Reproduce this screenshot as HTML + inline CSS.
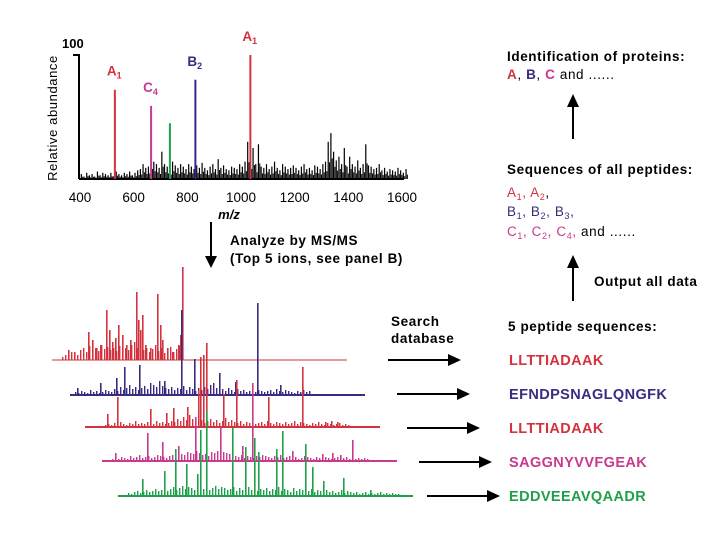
<!DOCTYPE html>
<html><head><meta charset="utf-8"><style>
body{margin:0;background:#fff}
svg{display:block;font-family:"Liberation Sans",sans-serif}
.b{font-weight:bold}
.w{letter-spacing:0.6px}
</style></head><body>
<svg id="s" width="720" height="540" viewBox="0 0 720 540">
<g id="topchart">
<line x1="79" y1="55" x2="79" y2="179" stroke="#000" stroke-width="2"/>
<line x1="73" y1="55" x2="80" y2="55" stroke="#000" stroke-width="2"/>
<text x="62" y="48" font-size="13" class="b">100</text>
<text transform="translate(57,118) rotate(-90)" text-anchor="middle" font-size="13" class="w">Relative abundance</text>
<text x="229" y="219" font-size="13" font-style="italic" class="b" text-anchor="middle">m/z</text>
</g>
<g id="spectra"></g>
<g>
<line x1="211" y1="222" x2="211" y2="258" stroke="#000" stroke-width="2"/>
<polygon points="205,256 217,256 211,268" fill="#000"/>
<text x="230" y="245" font-size="13.5" class="b w">Analyze by MS/MS</text>
<text x="230" y="263" font-size="13.5" class="b w">(Top 5 ions, see panel B)</text>
</g>
<g font-size="13.5" class="w">
<text x="507" y="61" class="b">Identification of proteins:</text>
<text x="507" y="79"><tspan fill="#d2333f" class="b">A</tspan>, <tspan fill="#3b2b80" class="b">B</tspan>, <tspan fill="#c8398f" class="b">C</tspan> and ......</text>
<line x1="573" y1="139" x2="573" y2="104" stroke="#000" stroke-width="2"/>
<polygon points="567,107 579,107 573,94" fill="#000"/>
<text x="507" y="174" class="b">Sequences of all peptides:</text>
<text x="507" y="197" fill="#d2333f">A<tspan font-size="9" dy="3">1</tspan><tspan dy="-3">, A</tspan><tspan font-size="9" dy="3">2</tspan><tspan dy="-3" fill="#000">,</tspan></text>
<text x="507" y="216" fill="#3b2b80">B<tspan font-size="9" dy="3">1</tspan><tspan dy="-3">, B</tspan><tspan font-size="9" dy="3">2</tspan><tspan dy="-3">, B</tspan><tspan font-size="9" dy="3">3</tspan><tspan dy="-3">,</tspan></text>
<text x="507" y="236" fill="#c8398f">C<tspan font-size="9" dy="3">1</tspan><tspan dy="-3">, C</tspan><tspan font-size="9" dy="3">2</tspan><tspan dy="-3">, C</tspan><tspan font-size="9" dy="3">4</tspan><tspan dy="-3">,</tspan><tspan fill="#000">  and ......</tspan></text>
<line x1="573" y1="301" x2="573" y2="265" stroke="#000" stroke-width="2"/>
<polygon points="567,268 579,268 573,255" fill="#000"/>
<text x="594" y="286" class="b">Output all data</text>
<text x="391" y="326" class="b">Search</text>
<text x="391" y="343" class="b">database</text>
<text x="508" y="331" class="b">5 peptide sequences:</text>
</g>
</svg>
<script>
const NS="http://www.w3.org/2000/svg";
// top spectrum data
const xTicks=[400,600,800,1000,1200,1400,1600];
const namedMz=[530,665,735,830,1035];
const namedInt=[72,59,45,80,100];
const namedLabels=["A","C","","B","A"];
const namedSubs=["1","4","","2","1"];
const namedColors=["#d2333f","#c8398f","#1fa04a","#3b2b80","#d2333f"];
const noiseStart=405, noiseStep=10;
const noiseInt=[4,2,5,3,4,2,6,3,5,4,3,5,2,6,4,3,5,4,6,3,5,7,
8,12,9,10,18,14,12,9,22,12,10,8,14,11,9,12,10,8,
12,10,8,11,9,13,9,7,10,12,8,16,9,11,8,7,10,9,8,12,
10,14,30,18,25,12,28,10,9,12,8,10,14,9,7,12,10,8,9,11,
9,7,10,12,8,9,7,11,10,8,12,14,30,37,22,15,18,12,25,10,
18,12,10,15,9,12,28,11,10,8,9,12,7,9,6,8,7,6,9,7,5,8];
// msms spectra data (relative position units, intensity px)
const specColors=["#d2333f","#3b2b80","#d2333f","#c8398f","#1fa04a"];
const peptides=["LLTTIADAAK","EFNDPSNAGLQNGFK","LLTTIADAAK","SAGGNYVVFGEAK","EDDVEEAVQAADR"];
const s1Mz=[16,22,36,40,44,48,54,57,60,63,66,70,74,78,84,86,88,90,93,98,105,108,110,115,120,126,128,130];
const s1Int=[10,8,28,20,12,15,50,30,18,22,35,25,15,20,68,40,30,45,15,12,66,35,20,12,8,15,25,93];
const s2Mz=[7,30,46,54,69,94,111,124,149,165,187,210,232];
const s2Int=[7,12,17,28,30,14,85,36,22,13,92,10,8];
const s3Mz=[22,32,65,81,88,102,113,115,118,121,138,151,183,217,240,246,252];
const s3Int=[13,30,18,14,19,20,37,70,72,84,33,47,30,60,5,6,5];
const s4Mz=[13,45,60,76,93,118,140,150,190,220,230,238,250];
const s4Int=[8,28,19,15,44,34,15,78,10,7,8,6,21];
const s5Mz=[24,46,57,68,79,82,88,114,127,136,140,158,164,187,194,205,225,252];
const s5Int=[17,25,47,32,22,66,85,68,49,58,44,47,65,52,29,15,18,6];
const s1Noise=[3,5,4,8,6,5,10,12,8,14,10,12,9,15,11,13,10,12,9,14,16,12,10,15,18,12,14,10,12,8,11,15,9,12,7,10,13,8,11,14,12];
const s2Noise=[3,2,4,3,2,5,3,4,2,3,5,4,3,6,4,8,5,7,10,6,8,5,7,9,6,12,10,8,14,9,7,6,8,5,7,6,9,5,8,6,4,7,5,8,6,10,12,7,5,6,4,7,5,3,6,4,5,3,4,6,3,5,4,3,4,5,3,6,4,3,5,4,3,2,4,3,5,3,4];
const s3Noise=[2,3,2,4,3,5,3,2,4,3,6,3,4,3,5,4,3,6,4,5,3,4,6,5,8,6,10,7,12,8,6,5,7,4,6,8,5,7,4,6,9,5,7,5,4,6,3,5,4,6,3,4,5,3,6,4,3,5,4,3,5,3,4,6,3,5,4,3,2,4,3,5,3,2,4,3,2,3,4,2,3,2];
const s4Noise=[2,3,2,4,3,2,5,3,4,6,3,4,5,3,4,6,5,4,3,5,6,8,5,7,6,9,8,7,10,8,6,7,5,9,8,10,12,9,8,7,6,5,4,6,3,5,4,3,5,4,6,5,4,3,5,4,6,3,4,5,3,4,2,3,5,4,3,2,4,3,5,4,3,2,3,4,2,3,4,2,3,2,3,2,3,2];
const s5Noise=[3,2,4,5,3,4,6,4,5,7,5,6,8,5,7,9,6,8,10,7,9,8,6,10,8,7,9,6,8,10,7,9,8,6,7,9,5,8,6,7,9,6,8,5,7,6,8,5,7,6,9,5,7,6,4,8,5,7,6,4,5,7,4,6,5,3,6,4,5,3,4,6,3,5,4,3,4,2,3,4,2,3,2,3,4,2,3,2,3,2,2];
const noiseStarts=[10,5,20,10,10];
const specNoiseStep=3;

function mk(tag,attrs,parent){const e=document.createElementNS(NS,tag);for(const k in attrs)e.setAttribute(k,attrs[k]);parent.appendChild(e);return e;}
const X=m=>80+(m-400)*(322/1200);
const Y=v=>179-v*1.24;
const topG=document.getElementById('topchart');
const ax=mk('line',{x1:79,y1:179,x2:404,y2:179,stroke:'#000','stroke-width':2},topG);


xTicks.forEach(t=>{
  const tx=mk('text',{x:X(t),y:202,'font-size':13.5,'text-anchor':'middle'},topG);
  tx.textContent=t;
  
  
});
noiseInt.forEach((v,i)=>{
  const m=noiseStart+i*noiseStep;
  const r=mk('rect',{x:X(m)-0.6,y:Y(v),width:1.2,height:179-Y(v),fill:'#000'},topG);
  
  
  const r2=mk('rect',{x:X(m+5)-0.5,y:Y(v*0.45),width:1,height:179-Y(v*0.45),fill:'#000'},topG);
  
  
});
namedMz.forEach((m,i)=>{
  const l=mk('line',{x1:X(m),y1:Y(namedInt[i]),x2:X(m),y2:179,stroke:namedColors[i],'stroke-width':2},topG);
  
  
  if(namedLabels[i]){
    const t=mk('text',{x:X(m)-8,y:Y(namedInt[i])-14,'font-size':13.5,fill:namedColors[i],'font-weight':'bold'},topG);
    t.innerHTML=namedLabels[i]+'<tspan font-size="9" dy="3">'+namedSubs[i]+'</tspan>';
    
    
  }
});
const sp=document.getElementById('spectra');
const allMz=[s1Mz,s2Mz,s3Mz,s4Mz,s5Mz], allInt=[s1Int,s2Int,s3Int,s4Int,s5Int];
const allNoise=[s1Noise,s2Noise,s3Noise,s4Noise,s5Noise];
const origins=[[52,360],[70,395],[85,427],[102,461],[118,496]];
const arrows=[[388,360],[397,394],[407,428],[419,462],[427,496]];
origins.forEach((o,k)=>{
  const g=mk('g',{},sp);
  
  
  const c=specColors[k];
  const bl=mk('line',{x1:o[0],y1:o[1],x2:o[0]+295,y2:o[1],stroke:c,'stroke-width':k===0?1:2},g);
  
  
  allNoise[k].forEach((v,i)=>{
    const x=o[0]+noiseStarts[k]+i*specNoiseStep;
    const r=mk('rect',{x:x,y:o[1]-v,width:1.4,height:v,fill:c},g);
    
    
  });
  allMz[k].forEach((m,i)=>{
    const r=mk('rect',{x:o[0]+m,y:o[1]-allInt[k][i],width:1.6,height:allInt[k][i],fill:c},g);
    
    
  });
  const a=arrows[k];
  const ln=mk('line',{x1:a[0],y1:a[1],x2:a[0]+62,y2:a[1],stroke:'#000','stroke-width':2},sp);
  
  
  const hd=mk('polygon',{points:`${a[0]+60},${a[1]-6} ${a[0]+73},${a[1]} ${a[0]+60},${a[1]+6}`,fill:'#000'},sp);
  
  
  const t=mk('text',{x:509,y:a[1]+5,'font-size':14.5,'font-weight':'bold','letter-spacing':0.4,fill:c},sp);
  t.textContent=peptides[k];
  
  
});
</script>
</body></html>
